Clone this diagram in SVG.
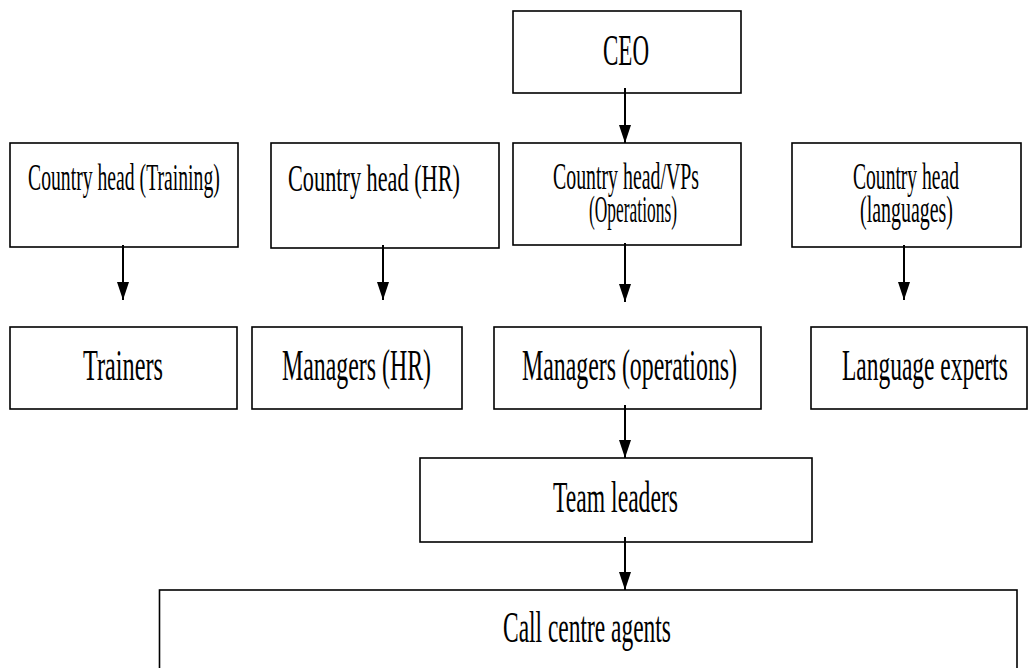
<svg xmlns="http://www.w3.org/2000/svg" width="1029" height="668" viewBox="0 0 1029 668">
<style>
.box{fill:#fff;stroke:#000;stroke-width:1.6}
.t{font-family:"Liberation Serif","Times New Roman",serif;fill:#000}
.lg{font-size:44px}
.sm{font-size:38px}
.con{stroke:#000;stroke-width:2;fill:none;marker-end:url(#ah)}
</style>
<defs>
<marker id="ah" markerUnits="userSpaceOnUse" markerWidth="19" markerHeight="12" refX="18" refY="6" orient="auto">
<path d="M0,0 L18,6 L0,12 z" fill="#000"/>
</marker>
</defs>
<rect width="1029" height="668" fill="#fff"/>
<g id="ceo"><rect class="box" x="513" y="11" width="228" height="82"/><text class="t lg" transform="translate(603,65) scale(0.57,1)" textLength="80.7" lengthAdjust="spacingAndGlyphs">CEO</text></g>
<g id="ch-training"><rect class="box" x="10" y="143" width="228" height="104"/><text class="t sm" transform="translate(28,190) scale(0.53,1)" textLength="362" lengthAdjust="spacingAndGlyphs">Country head (Training)</text></g>
<g id="ch-hr"><rect class="box" x="271" y="143" width="228" height="105"/><text class="t sm" transform="translate(288,191) scale(0.53,1)" textLength="324.5" lengthAdjust="spacingAndGlyphs">Country head (HR)</text></g>
<g id="ch-ops"><rect class="box" x="513" y="143" width="228" height="102"/><text class="t sm" transform="translate(553,189) scale(0.53,1)" textLength="275.5" lengthAdjust="spacingAndGlyphs">Country head/VPs</text><text class="t sm" transform="translate(589,222) scale(0.53,1)" textLength="166" lengthAdjust="spacingAndGlyphs">(Operations)</text></g>
<g id="ch-lang"><rect class="box" x="792" y="143" width="229" height="104"/><text class="t sm" transform="translate(853,189) scale(0.53,1)" textLength="200" lengthAdjust="spacingAndGlyphs">Country head</text><text class="t sm" transform="translate(860,222) scale(0.53,1)" textLength="175.5" lengthAdjust="spacingAndGlyphs">(languages)</text></g>
<g id="trainers"><rect class="box" x="10" y="327" width="227" height="82"/><text class="t lg" transform="translate(83,380) scale(0.57,1)" textLength="140.4" lengthAdjust="spacingAndGlyphs">Trainers</text></g>
<g id="mgr-hr"><rect class="box" x="252" y="327" width="210" height="82"/><text class="t lg" transform="translate(282,380) scale(0.57,1)" textLength="261.4" lengthAdjust="spacingAndGlyphs">Managers (HR)</text></g>
<g id="mgr-ops"><rect class="box" x="494" y="327" width="267" height="82"/><text class="t lg" transform="translate(522,380) scale(0.57,1)" textLength="377.2" lengthAdjust="spacingAndGlyphs">Managers (operations)</text></g>
<g id="lang-exp"><rect class="box" x="811" y="327" width="216" height="82"/><text class="t lg" transform="translate(842,380) scale(0.57,1)" textLength="291.2" lengthAdjust="spacingAndGlyphs">Language experts</text></g>
<g id="team"><rect class="box" x="420" y="458" width="392" height="84"/><text class="t lg" transform="translate(553,512) scale(0.57,1)" textLength="219.3" lengthAdjust="spacingAndGlyphs">Team leaders</text></g>
<g id="agents"><rect class="box" x="159.5" y="590" width="857.5" height="120"/><text class="t lg" transform="translate(503,642) scale(0.57,1)" textLength="294.7" lengthAdjust="spacingAndGlyphs">Call centre agents</text></g>
<g id="connectors">
<line class="con" x1="625" y1="88" x2="625" y2="143"/>
<line class="con" x1="123" y1="245" x2="123" y2="300"/>
<line class="con" x1="383" y1="245" x2="383" y2="300"/>
<line class="con" x1="625" y1="243" x2="625" y2="302"/>
<line class="con" x1="904" y1="245" x2="904" y2="300"/>
<line class="con" x1="625" y1="405" x2="625" y2="458"/>
<line class="con" x1="625" y1="537" x2="625" y2="590"/>
</g>
</svg>
